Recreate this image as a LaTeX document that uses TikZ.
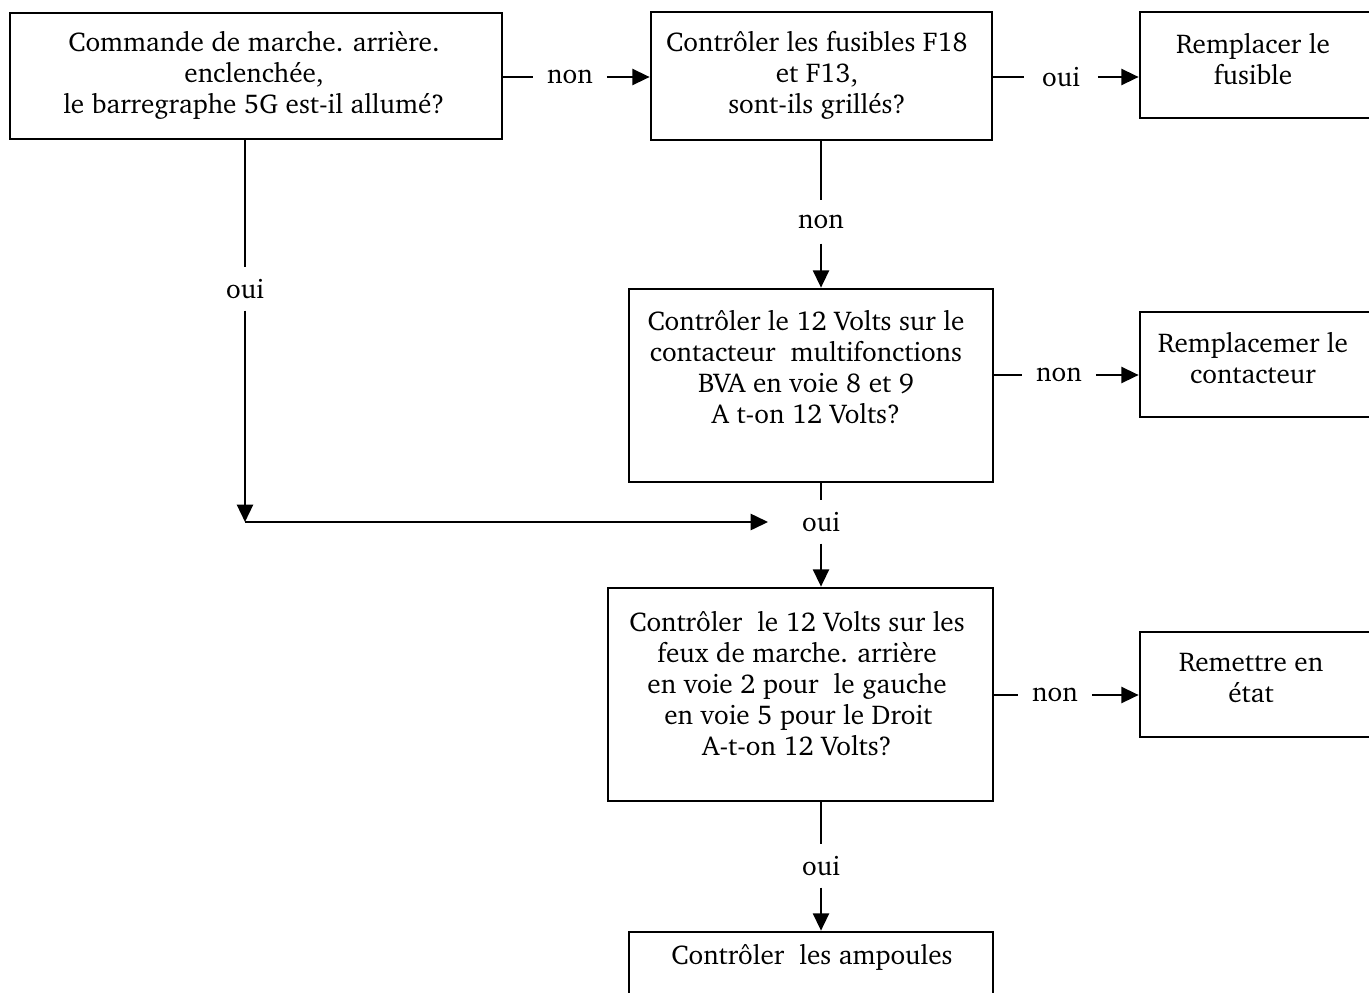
\documentclass[tikz,border=0pt]{standalone}
\usepackage[T1]{fontenc}
\usepackage{charter}
\usetikzlibrary{arrows.meta}
\tikzset{
  box/.style={draw, line width=2pt, rectangle, inner sep=0pt},
  txt/.style={align=center, inner sep=0pt, font=\fontsize{20.4}{23.25}\selectfont},
  lbl/.style={inner sep=0pt, minimum width=55pt, minimum height=32pt, font=\fontsize{20.4}{23.25}\selectfont},
  conn/.style={line width=1.8pt},
  arr/.style={line width=1.8pt, -{Triangle[length=13pt, width=12pt]}},
}
\begin{document}
\begin{tikzpicture}[x=0.75pt, y=-0.75pt]
\clip (0,0) rectangle (1369,992);
% boxes
\node[box, minimum width=369pt, minimum height=94.5pt] (b1) at (256,76) {};
\node[txt] (t1) at (254,75) {Commande de marche. arri\`ere.\\enclench\'ee,\\le barregraphe 5G est-il allum\'e?};
\node[box, minimum width=255.75pt, minimum height=96pt] (b2) at (821.5,76) {};
\node[txt] (t2) at (817,75) {Contr\^oler les fusibles F18\\et F13,\\sont-ils grill\'es?};
\node[box, minimum width=225pt, minimum height=79.5pt] (b3) at (1290,65) {};
\node[txt] (t3) at (1253,59) {Remplacer le\\fusible};
\node[box, minimum width=273pt, minimum height=144.75pt] (b4) at (811,385.5) {};
\node[txt] (t4) at (806,367.5) {Contr\^oler le 12 Volts sur le\\contacteur\ \ multifonctions\\BVA en voie 8 et 9\\A t-on 12 Volts?};
\node[box, minimum width=225pt, minimum height=78.75pt] (b5) at (1290,364.5) {};
\node[txt] (t5) at (1253,358) {Remplacemer le\\contacteur};
\node[box, minimum width=288.75pt, minimum height=159.75pt] (b6) at (800.5,694.5) {};
\node[txt] (t6) at (797,683.5) {Contr\^oler\ \ le 12 Volts sur les\\feux de marche. arri\`ere\hspace*{13pt}\\en voie 2 pour\ \ le gauche\hspace*{6pt}\\\hspace*{2pt}en voie 5 pour le Droit\\A-t-on 12 Volts?};
\node[box, minimum width=225pt, minimum height=78.75pt] (b7) at (1290,684.5) {};
\node[txt] (t7) at (1251,677.5) {Remettre en\\\'etat};
\node[box, minimum width=273pt, minimum height=90pt] (b8) at (811,992) {};
\node[txt] (t8) at (812,957) {Contr\^oler\ \ les ampoules};
% labels
\node[lbl] (n1) at (570,77) {non};
\node[lbl] (o1) at (1061,77) {oui};
\node[lbl] (n2) at (821,222) {non};
\node[lbl] (o2) at (245,289) {oui};
\node[lbl] (n3) at (1059,375) {non};
\node[lbl] (o3) at (821,522) {oui};
\node[lbl] (n4) at (1055,695) {non};
\node[lbl] (o4) at (821,866) {oui};
\coordinate (j) at (245,522);
% connectors
\draw[conn] (b1.east |- n1) -- (n1.west);
\draw[arr] (n1.east) -- (b2.west |- n1);
\draw[conn] (b2.east |- o1) -- (o1.west);
\draw[arr] (o1.east) -- (b3.west |- o1);
\draw[conn] (b2.south -| n2) -- (n2.north);
\draw[arr] (n2.south) -- (b4.north -| n2);
\draw[conn] (b4.east |- n3) -- (n3.west);
\draw[arr] (n3.east) -- (b5.west |- n3);
\draw[conn] (b1.south -| o2) -- (o2.north);
\draw[arr] (o2.south) -- (j);
\draw[arr, shorten >=12pt] (j) -- (o3.west);
\draw[conn] (b4.south -| o3) -- (o3.north);
\draw[arr] (o3.south) -- (b6.north -| o3);
\draw[conn] (b6.east |- n4) -- (n4.west);
\draw[arr] (n4.east) -- (b7.west |- n4);
\draw[conn] (b6.south -| o4) -- (o4.north);
\draw[arr] (o4.south) -- (b8.north -| o4);
\end{tikzpicture}
\end{document}
